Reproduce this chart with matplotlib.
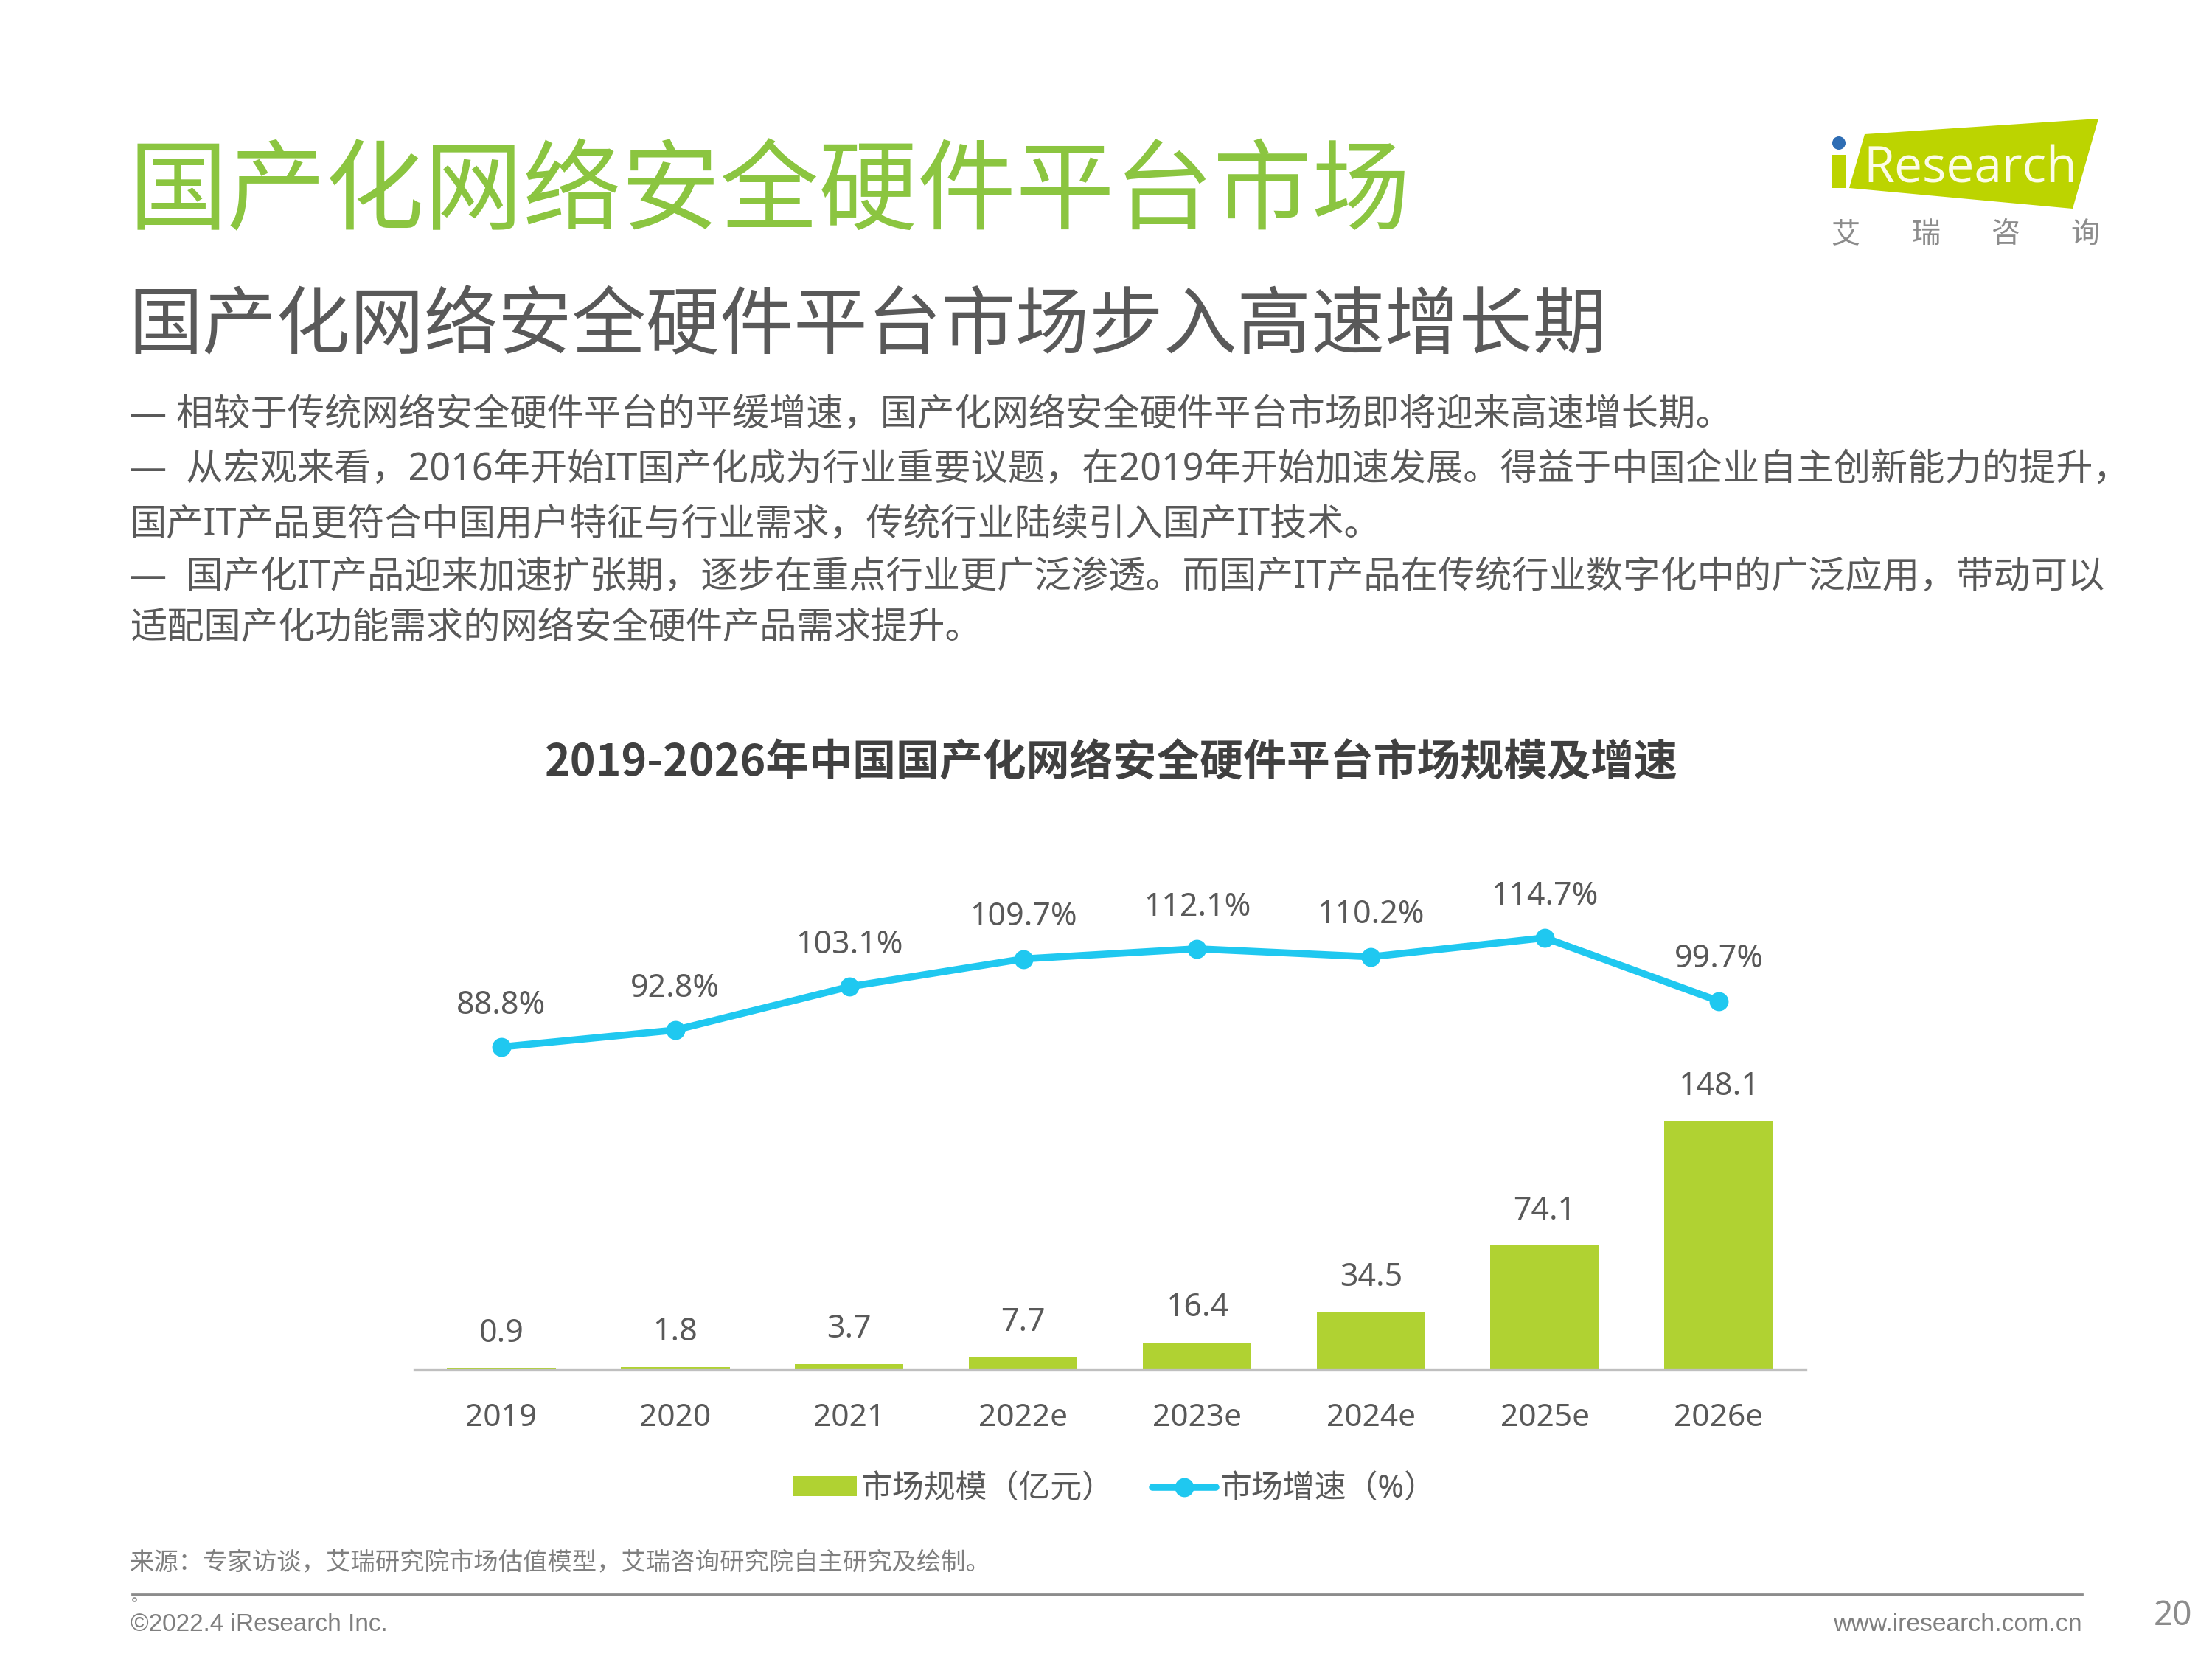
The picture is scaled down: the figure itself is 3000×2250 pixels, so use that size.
import matplotlib
matplotlib.use('Agg')
import matplotlib.pyplot as plt
from matplotlib.patches import Polygon, Circle, Rectangle

plt.rcParams['font.family'] = ['Noto Sans', 'Noto Sans CJK SC', 'DejaVu Sans']

W, H = 3000, 2250

# chart data
years = ['2019', '2020', '2021', '2022e', '2023e', '2024e', '2025e', '2026e']
market_size = [0.9, 1.8, 3.7, 7.7, 16.4, 34.5, 74.1, 148.1]
growth_rate = [88.8, 92.8, 103.1, 109.7, 112.1, 110.2, 114.7, 99.7]

title = '国产化网络安全硬件平台市场'
subtitle = '国产化网络安全硬件平台市场步入高速增长期'
body_lines = [
    '— 相较于传统网络安全硬件平台的平缓增速，国产化网络安全硬件平台市场即将迎来高速增长期。',
    '—  从宏观来看，2016年开始IT国产化成为行业重要议题，在2019年开始加速发展。得益于中国企业自主创新能力的提升，',
    '国产IT产品更符合中国用户特征与行业需求，传统行业陆续引入国产IT技术。',
    '—  国产化IT产品迎来加速扩张期，逐步在重点行业更广泛渗透。而国产IT产品在传统行业数字化中的广泛应用，带动可以',
    '适配国产化功能需求的网络安全硬件产品需求提升。',
]
body_y = [564, 637, 712, 783, 853]
chart_title = '2019-2026年中国国产化网络安全硬件平台市场规模及增速'
source = '来源：专家访谈，艾瑞研究院市场估值模型，艾瑞咨询研究院自主研究及绘制。'

GREEN = '#B0D232'
BLUE = '#1FC8F0'
GRAY = '#595959'

fig = plt.figure(figsize=(10, 7.5), dpi=300, facecolor='white')


def put(x, y, s, size, color=GRAY, ha='left', **kw):
    # positions are in reference pixels, y measured from the top
    return fig.text(x / W, 1 - y / H, s, fontsize=size, color=color, ha=ha, va='center', **kw)


# page furniture
put(174, 266, title, 32.1, color='#8BC540')
put(174, 446, subtitle, 24.05, color='#595959')
for s, y in zip(body_lines, body_y):
    put(176, y, s, 12.05)
put(1507, 1035, chart_title, 14.15, color='#404040', ha='center', fontweight='bold',
    family=['Noto Sans CJK SC'])
put(176, 2121, source, 8, color='#7F7F7F')
put(177, 2203, '©2022.4 iResearch Inc.', 8, color='#7F7F7F', family=['Liberation Sans'])
put(2824, 2203, 'www.iresearch.com.cn', 8.1, color='#7F7F7F', ha='right', family=['Liberation Sans'])
put(2947, 2192, '20', 11, color='#8C8C8C', ha='center')

# full-figure overlay in pixel coordinates for the logo and footer rule
page = fig.add_axes([0, 0, 1, 1], zorder=-1)
page.set_xlim(0, W)
page.set_ylim(H, 0)
page.axis('off')
page.plot([180, 2824], [2163, 2163], color='#8C8C8C', lw=0.9)
page.plot([182], [2169], marker='o', ms=1.2, mfc='white', mec='#8C8C8C', mew=0.4)
page.add_patch(Polygon([(2529, 182), (2846, 161), (2811, 283), (2508, 255)], color='#BCD400', lw=0))
page.add_patch(Rectangle((2485, 210), 18, 45, color='#BCD400', lw=0))
page.add_patch(Circle((2494, 194), 9, color='#2E6DB4', lw=0))
page.text(2527, 230, 'Research', fontsize=16.3, color='#FCFCE8', family='Open Sans', va='center')
for x, ch in zip([2503, 2612, 2720, 2828], '艾瑞咨询'):
    page.text(x, 319, ch, fontsize=9.4, color='#8C8C8C', ha='center', va='center')

# main chart, bars and growth line on separate scales
left, right, top, bottom = 562, 2449, 1180, 1858
ax = fig.add_axes([left / W, 1 - bottom / H, (right - left) / W, (bottom - top) / H])
ax.patch.set_alpha(0)
pos = range(len(years))
bars = ax.bar(pos, market_size, width=0.625, color=GREEN, label='市场规模（亿元）')
ax.set_xlim(-0.5, 7.5)
ax.set_ylim(0, 298)
ax.set_xticks(list(pos))
ax.set_xticklabels(years, fontsize=10.2, color=GRAY)
ax.tick_params(axis='x', length=0, pad=10.5)
ax.set_yticks([])
for sp in ['top', 'left', 'right']:
    ax.spines[sp].set_visible(False)
ax.spines['bottom'].set_color('#BFBFBF')
ax.spines['bottom'].set_linewidth(0.8)
for x, v in zip(pos, market_size):
    ax.annotate(f'{v}', (x, v), xytext=(0, 11.2), textcoords='offset points',
                ha='center', va='center', fontsize=10.3, color=GRAY)

ax2 = ax.twinx()
ax2.patch.set_alpha(0)
line, = ax2.plot(pos, growth_rate, color=BLUE, lw=2.3, marker='o', ms=5.2,
                 solid_capstyle='round', label='市场增速（%）')
ax2.set_ylim(12.1, 130.8)
ax2.set_yticks([])
for sp in ax2.spines.values():
    sp.set_visible(False)
for x, v in zip(pos, growth_rate):
    ax2.annotate(f'{v}%', (x, v), xytext=(0, 13.5), textcoords='offset points',
                 ha='center', va='center', fontsize=10.3, color=GRAY)

leg = fig.legend([bars, line], ['市场规模（亿元）', '市场增速（%）'], ncol=2, frameon=False,
                 fontsize=10.3, labelcolor=GRAY, loc='center', bbox_to_anchor=(1512 / W, 1 - 2020 / H),
                 handlelength=2.0, handleheight=0.6, handletextpad=0.15, columnspacing=1.2,
                 borderpad=0)

fig.savefig('out.png', dpi=300, facecolor='white')
